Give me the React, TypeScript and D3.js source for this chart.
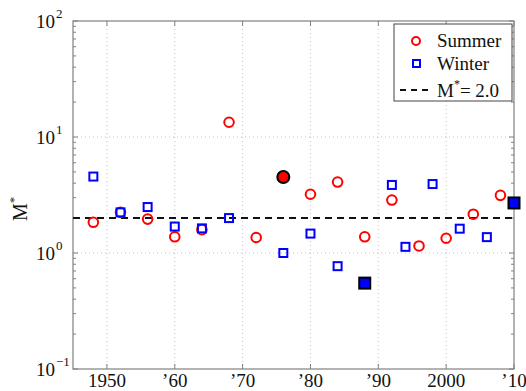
import * as d3 from "d3";
import { useEffect, useRef } from "react";

// Summer Olympics: year, M*
const summerYears = [1948, 1952, 1956, 1960, 1964, 1968, 1972, 1976, 1980, 1984, 1988, 1992, 1996, 2000, 2004, 2008];
const summerValues = [1.84, 2.24, 1.96, 1.38, 1.59, 13.4, 1.36, 4.52, 3.21, 4.09, 1.38, 2.86, 1.15, 1.34, 2.16, 3.14];
const summerHighlight = [1976];

// Winter Olympics
const winterYears = [1948, 1952, 1956, 1960, 1964, 1968, 1976, 1980, 1984, 1988, 1992, 1994, 1998, 2002, 2006, 2010];
const winterValues = [4.56, 2.24, 2.49, 1.69, 1.63, 2.0, 1.0, 1.47, 0.77, 0.55, 3.86, 1.13, 3.93, 1.62, 1.37, 2.7];
const winterHighlight = [1988, 2010];

const xTicks = [1950, 1960, 1970, 1980, 1990, 2000, 2010];
const xTickLabels = ["1950", "\u201960", "\u201970", "\u201980", "\u201990", "2000", "\u201910"];
const yTicks = [0.1, 1, 10, 100];
const yTickExps = ["\u22121", "0", "1", "2"];
const threshold = 2.0;

export default function App() {
  const ref = useRef<SVGSVGElement>(null);

  useEffect(() => {
    if (!ref.current) return;
    const svg = d3.select(ref.current);
    svg.selectAll("*").remove();

    const width = 526;
    const height = 391;
    const margin = { top: 21, right: 12, bottom: 22, left: 73 };
    const innerW = width - margin.left - margin.right;
    const innerH = height - margin.top - margin.bottom;
    const font = "'Liberation Serif', 'Times New Roman', serif";

    const x = d3.scaleLinear().domain([1945, 2010]).range([0, innerW]);
    const y = d3.scaleLog().domain([0.1, 100]).range([innerH, 0]);

    const g = svg.append("g").attr("transform", `translate(${margin.left},${margin.top})`);

    // grid
    g.selectAll(".gx")
      .data(xTicks.slice(0, -1))
      .enter()
      .append("line")
      .attr("x1", (d) => x(d))
      .attr("x2", (d) => x(d))
      .attr("y1", 0)
      .attr("y2", innerH)
      .attr("stroke", "#c4c4c4")
      .attr("stroke-dasharray", "1,3");
    g.selectAll(".gy")
      .data(yTicks.slice(1, -1))
      .enter()
      .append("line")
      .attr("x1", 0)
      .attr("x2", innerW)
      .attr("y1", (d) => y(d))
      .attr("y2", (d) => y(d))
      .attr("stroke", "#c4c4c4")
      .attr("stroke-dasharray", "1,3");

    // minor + major ticks on y (inside, both sides)
    const yMinor: number[] = [];
    [0.1, 1, 10].forEach((b) => {
      for (let k = 2; k <= 9; k++) yMinor.push(b * k);
    });
    const axisColor = "#808080";
    const tickG = g.append("g").attr("stroke", axisColor);
    yMinor.forEach((v) => {
      tickG.append("line").attr("x1", 0).attr("x2", 3).attr("y1", y(v)).attr("y2", y(v));
      tickG.append("line").attr("x1", innerW).attr("x2", innerW - 3).attr("y1", y(v)).attr("y2", y(v));
    });
    yTicks.forEach((v) => {
      tickG.append("line").attr("x1", 0).attr("x2", 5).attr("y1", y(v)).attr("y2", y(v));
      tickG.append("line").attr("x1", innerW).attr("x2", innerW - 5).attr("y1", y(v)).attr("y2", y(v));
    });
    xTicks.forEach((v) => {
      tickG.append("line").attr("x1", x(v)).attr("x2", x(v)).attr("y1", innerH).attr("y2", innerH - 5);
      tickG.append("line").attr("x1", x(v)).attr("x2", x(v)).attr("y1", 0).attr("y2", 5);
    });

    // frame
    g.append("rect")
      .attr("width", innerW)
      .attr("height", innerH)
      .attr("fill", "none")
      .attr("stroke", axisColor)
      .attr("stroke-width", 1.2);

    // threshold line
    g.append("line")
      .attr("x1", 0)
      .attr("x2", innerW)
      .attr("y1", y(threshold))
      .attr("y2", y(threshold))
      .attr("stroke", "#111")
      .attr("stroke-width", 2)
      .attr("stroke-dasharray", "7,5");

    // summer circles
    const summer = summerYears.map((yr, i) => ({ yr, v: summerValues[i] }));
    g.selectAll(".s")
      .data(summer)
      .enter()
      .append("circle")
      .attr("cx", (d) => x(d.yr))
      .attr("cy", (d) => y(d.v))
      .attr("r", (d) => (summerHighlight.includes(d.yr) ? 6 : 4.8))
      .attr("fill", (d) => (summerHighlight.includes(d.yr) ? "#ff0000" : "none"))
      .attr("stroke", (d) => (summerHighlight.includes(d.yr) ? "#000" : "#ff0000"))
      .attr("stroke-width", 2);

    // winter squares
    const winter = winterYears.map((yr, i) => ({ yr, v: winterValues[i] }));
    g.selectAll(".w")
      .data(winter)
      .enter()
      .append("rect")
      .attr("x", (d) => x(d.yr) - (winterHighlight.includes(d.yr) ? 5.5 : 4))
      .attr("y", (d) => y(d.v) - (winterHighlight.includes(d.yr) ? 5.5 : 4))
      .attr("width", (d) => (winterHighlight.includes(d.yr) ? 11 : 8))
      .attr("height", (d) => (winterHighlight.includes(d.yr) ? 11 : 8))
      .attr("fill", (d) => (winterHighlight.includes(d.yr) ? "#0000ff" : "none"))
      .attr("stroke", (d) => (winterHighlight.includes(d.yr) ? "#000" : "#0000ff"))
      .attr("stroke-width", 2);

    // x tick labels
    g.selectAll(".xl")
      .data(xTicks)
      .enter()
      .append("text")
      .attr("x", (d) => x(d))
      .attr("y", innerH + 18)
      .attr("text-anchor", "middle")
      .style("font-family", font)
      .style("font-size", "19px")
      .style("fill", "#111")
      .text((_, i) => xTickLabels[i]);

    // y tick labels 10^n
    yTicks.forEach((v, i) => {
      g.append("text")
        .attr("x", -18)
        .attr("y", y(v) + 7)
        .attr("text-anchor", "end")
        .style("font-family", font)
        .style("font-size", "19px")
        .style("fill", "#111")
        .text("10");
      g.append("text")
        .attr("x", -17)
        .attr("y", y(v) - 3)
        .attr("text-anchor", "start")
        .style("font-family", font)
        .style("font-size", "13px")
        .style("fill", "#111")
        .text(yTickExps[i]);
    });

    // y axis title
    const yt = svg
      .append("text")
      .attr("transform", `translate(27,${margin.top + y(2.4)}) rotate(-90)`)
      .attr("text-anchor", "middle")
      .style("font-family", font)
      .style("font-size", "20px")
      .style("fill", "#111")
      .text("M");
    yt.append("tspan").attr("dy", -9).style("font-size", "13px").text("*");

    // legend
    const lg = svg.append("g").attr("transform", "translate(394,24)");
    lg.append("rect")
      .attr("width", 118)
      .attr("height", 77)
      .attr("fill", "#fff")
      .attr("stroke", "#444")
      .attr("stroke-width", 1);
    lg.append("circle")
      .attr("cx", 22)
      .attr("cy", 17)
      .attr("r", 4)
      .attr("fill", "none")
      .attr("stroke", "#ff0000")
      .attr("stroke-width", 2);
    lg.append("rect")
      .attr("x", 19)
      .attr("y", 36)
      .attr("width", 7)
      .attr("height", 7)
      .attr("fill", "none")
      .attr("stroke", "#0000ff")
      .attr("stroke-width", 2);
    lg.append("line")
      .attr("x1", 6)
      .attr("x2", 34)
      .attr("y1", 66)
      .attr("y2", 66)
      .attr("stroke", "#111")
      .attr("stroke-width", 2)
      .attr("stroke-dasharray", "6,5");
    const legendText = (ty: number) =>
      lg
        .append("text")
        .attr("x", 43)
        .attr("y", ty)
        .style("font-family", font)
        .style("font-size", "19px")
        .style("fill", "#111");
    legendText(23).text("Summer");
    legendText(46).text("Winter");
    const mt = legendText(73).text("M");
    mt.append("tspan").attr("dy", -9).style("font-size", "12px").text("*");
    mt.append("tspan").attr("dy", 9).text("= 2.0");
  }, []);

  return (
    <svg
      ref={ref}
      width={526}
      height={391}
      style={{ position: "absolute", left: 0, top: 0, background: "#fff" }}
    />
  );
}
